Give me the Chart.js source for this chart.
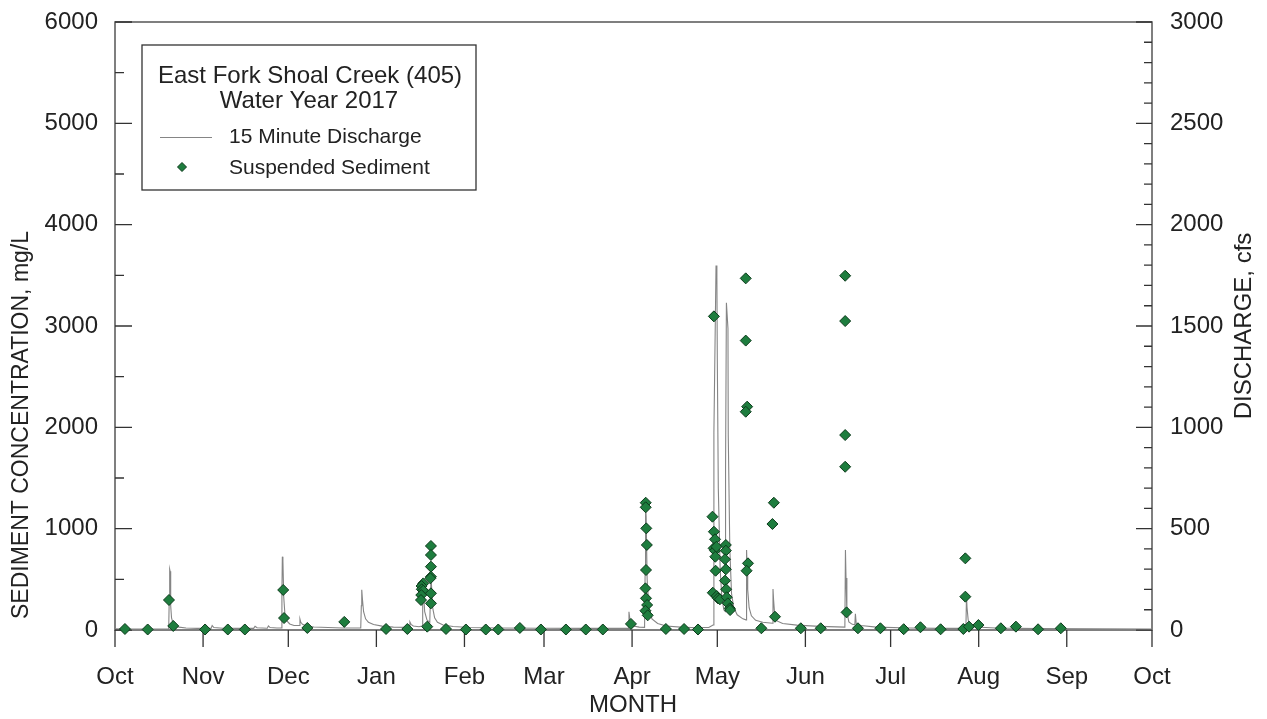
<!DOCTYPE html>
<html><head><meta charset="utf-8">
<script src="https://cdn.jsdelivr.net/npm/chart.js@4/dist/chart.umd.min.js"></script>
<style>html,body{margin:0;padding:0;background:#fff;}#wrap{width:1267px;height:719px;}</style>
</head><body><div id="wrap"><canvas id="c" width="1267" height="719"></canvas></div>
<script>
// Days since 1 Oct 2016
const monthDays = [0,31,61,92,123,151,182,212,243,273,304,335,365];
const monthLabels = ['Oct','Nov','Dec','Jan','Feb','Mar','Apr','May','Jun','Jul','Aug','Sep','Oct'];
const concMajor = [0,1000,2000,3000,4000,5000,6000];
const concMinor = [500,1500,2500,3500,4500,5500];
const cfsMajor = [0,500,1000,1500,2000,2500,3000];
const cfsMinor = [100,200,300,400,600,700,800,900,1100,1200,1300,1400,1600,1700,1800,1900,2100,2200,2300,2400,2600,2700,2800,2900];

// Suspended sediment samples (mg/L)
const sedDays = [3.5,11.5,19.0,20.5,31.7,39.7,45.7,59.2,59.5,67.7,80.7,95.4,102.9,
 108.5,107.9,108.0,108.5,107.8,107.7,109.9,111.2,111.2,111.2,111.2,111.0,111.2,111.2,
 116.5,123.5,130.5,134.9,142.5,149.9,158.7,165.7,171.7,181.6,
 186.8,186.8,187.0,187.2,186.9,186.7,186.9,187.3,186.7,187.5,
 193.9,200.3,205.2,
 210.3,210.8,211.2,210.7,211.2,211.7,211.3,211.4,210.4,211.8,212.2,212.9,210.8,
 215.0,215.0,214.7,215.0,214.7,215.1,215.3,215.7,216.4,216.5,
 222.0,222.0,222.5,222.0,222.8,222.3,227.5,231.9,231.4,232.3,241.4,248.4,
 257.0,257.0,257.0,257.0,257.5,261.5,269.4,277.6,283.5,290.6,
 299.3,299.3,298.6,300.6,303.9,311.8,317.1,324.9,332.9];
const sedConc = [10,5,296,40,5,5,5,395,118,20,80,10,10,
 460,434,402,388,345,296,33,829,740,625,526,510,362,263,
 10,5,5,5,20,5,5,5,5,60,
 1256,1211,1003,839,592,411,313,247,190,145,
 10,10,5,
 1118,970,895,806,783,822,723,585,368,335,313,303,3095,
 839,783,698,599,487,402,323,263,214,197,
 3470,2856,2204,2154,658,585,17,1256,1046,131,17,17,
 3496,3049,1924,1611,174,17,17,8,27,7,
 707,329,10,33,49,17,33,7,17];

// 15-minute discharge (cfs), read at breakpoints
const qDays = [0,5,12,18.9,19.1,19.25,19.4,19.6,19.9,20.4,21.2,22.5,25,29,33.8,34.2,34.8,38,43,48.8,49.3,50,53.6,54,54.6,57,
 58.6,58.75,58.9,59.1,59.4,59.8,60.5,61.5,63,64.9,65.1,65.4,66,67.5,70,75,80,
 86.5,86.7,86.85,87.1,87.5,88.2,89.2,91,94,98,103.5,103.8,104.2,105,107,
 108.1,108.3,108.6,109,109.8,110.8,111.0,111.15,111.4,111.8,112.5,113.5,115.5,119,125,135,150,165,175,
 180.6,180.9,181.3,182.5,184.5,186.4,186.6,186.75,186.95,187.3,187.9,189,191,194,199,205,205.8,206.4,209,
 210.5,210.8,211.55,211.85,212.0,212.35,213.0,213.6,214.3,214.85,214.9,215.2,215.75,215.85,216.4,217.0,217.8,219,221,
 222.1,222.3,222.5,222.7,223.2,224,225.5,228,231.4,231.6,231.8,232.2,233,235,240,248,
 256.9,257.1,257.3,257.6,258.3,259.5,260.4,260.6,260.9,262.5,268,280,290,
 299.5,299.7,299.9,300.3,301,303,310,325,345,365];
const qCfs = [6,5,5,5,160,300,290,120,60,35,22,14,10,8,8,22,12,9,8,8,18,11,9,20,12,10,
 10,180,362,340,160,80,45,30,22,22,54,38,28,20,15,12,10,
 10,120,198,150,90,55,38,27,19,14,13,40,28,20,16,
 20,200,180,90,50,38,150,270,220,110,60,38,25,17,12,10,9,8,8,
 8,90,45,20,14,13,300,620,560,250,110,55,32,20,14,11,22,12,12,
 25,973,1798,1740,1334,700,300,160,100,90,790,1615,1487,963,400,180,110,75,55,
 50,395,300,200,110,70,48,38,33,202,150,75,45,32,24,18,
 14,395,256,90,40,28,26,80,30,22,14,10,8,
 8,165,110,50,25,15,10,7,6,5];

const FONT = '"Liberation Sans", Arial, sans-serif';
const TXT = '#222';
const GREEN = '#1e7d3e';
const GREEN_EDGE = '#0c3a1b';
const LINE_GREY = '#858585';

const framePlugin = {
  id: 'frame',
  beforeDatasetsDraw(chart) {
    const {ctx, chartArea: a, scales} = chart;
    ctx.save();
    ctx.strokeStyle = '#555';
    ctx.lineWidth = 1.5;
    ctx.strokeRect(a.left, a.top, a.right - a.left, a.bottom - a.top);
    ctx.strokeStyle = '#333';
    ctx.lineWidth = 1.3;
    ctx.beginPath();
    concMajor.forEach(v => { const p = scales.y.getPixelForValue(v); ctx.moveTo(a.left, p); ctx.lineTo(a.left + 17, p); });
    concMinor.forEach(v => { const p = scales.y.getPixelForValue(v); ctx.moveTo(a.left, p); ctx.lineTo(a.left + 9, p); });
    cfsMajor.forEach(v => { const p = scales.y1.getPixelForValue(v); ctx.moveTo(a.right, p); ctx.lineTo(a.right - 16, p); });
    cfsMinor.forEach(v => { const p = scales.y1.getPixelForValue(v); ctx.moveTo(a.right, p); ctx.lineTo(a.right - 8, p); });
    monthDays.forEach(v => { const p = scales.x.getPixelForValue(v); ctx.moveTo(p, a.bottom); ctx.lineTo(p, a.bottom + 17); });
    ctx.stroke();
    ctx.restore();
  },
  afterDraw(chart) {
    const {ctx} = chart;
    ctx.save();
    ctx.fillStyle = TXT;
    ctx.textAlign = 'center';
    ctx.textBaseline = 'middle';
    ctx.font = '24px ' + FONT;
    ctx.fillText('MONTH', 633, 705);
    ctx.save();
    ctx.translate(22, 425);
    ctx.rotate(-Math.PI / 2);
    ctx.font = '23px ' + FONT;
    ctx.fillText('SEDIMENT CONCENTRATION, mg/L', 0, 0);
    ctx.restore();
    ctx.save();
    ctx.translate(1244, 326);
    ctx.rotate(-Math.PI / 2);
    ctx.fillText('DISCHARGE, cfs', 0, 0);
    ctx.restore();
    // legend
    ctx.fillStyle = '#fff';
    ctx.fillRect(142, 45, 334, 145);
    ctx.strokeStyle = '#333';
    ctx.lineWidth = 1.3;
    ctx.strokeRect(142, 45, 334, 145);
    ctx.fillStyle = TXT;
    ctx.font = '24px ' + FONT;
    ctx.fillText('East Fork Shoal Creek (405)', 310, 76);
    ctx.fillText('Water Year 2017', 309, 101);
    ctx.textAlign = 'left';
    ctx.font = '21px ' + FONT;
    ctx.fillText('15 Minute Discharge', 229, 137);
    ctx.fillText('Suspended Sediment', 229, 168);
    ctx.strokeStyle = LINE_GREY;
    ctx.lineWidth = 1;
    ctx.beginPath(); ctx.moveTo(160, 137.5); ctx.lineTo(212, 137.5); ctx.stroke();
    ctx.beginPath();
    ctx.moveTo(177.5, 167); ctx.lineTo(182, 162.5); ctx.lineTo(186.5, 167); ctx.lineTo(182, 171.5); ctx.closePath();
    ctx.fillStyle = GREEN; ctx.fill();
    ctx.strokeStyle = GREEN_EDGE; ctx.stroke();
    ctx.restore();
  }
};

function fitY(s) { s.width = 115; s.paddingTop = 0; s.paddingBottom = 0; }

new Chart(document.getElementById('c'), {
  data: {
    datasets: [
      {
        type: 'scatter',
        label: 'Suspended Sediment',
        data: sedDays.map((d, i) => ({x: d, y: sedConc[i]})),
        yAxisID: 'y',
        pointStyle: 'rectRot',
        pointRadius: 5.5,
        pointHoverRadius: 5.5,
        backgroundColor: GREEN,
        borderColor: GREEN_EDGE,
        borderWidth: 1,
        clip: false
      },
      {
        type: 'line',
        label: '15 Minute Discharge',
        data: qDays.map((d, i) => ({x: d, y: qCfs[i]})),
        yAxisID: 'y1',
        borderColor: LINE_GREY,
        borderWidth: 1.1,
        pointRadius: 0,
        tension: 0,
        fill: false
      }
    ]
  },
  options: {
    responsive: false,
    animation: false,
    devicePixelRatio: 1,
    layout: {padding: {top: 22, left: 0, right: 0, bottom: 0}},
    plugins: {legend: {display: false}, tooltip: {enabled: false}, title: {display: false}},
    scales: {
      x: {
        type: 'linear', position: 'bottom', min: 0, max: 365,
        grid: {display: false, drawTicks: false}, border: {display: false},
        afterBuildTicks: s => { s.ticks = monthDays.map(v => ({value: v})); },
        afterFit: s => { s.height = 89; s.paddingLeft = 0; s.paddingRight = 0; },
        ticks: {autoSkip: false, maxRotation: 0, padding: 33, color: TXT, font: {family: FONT, size: 24},
          callback: v => monthLabels[monthDays.indexOf(v)]}
      },
      y: {
        type: 'linear', position: 'left', min: 0, max: 6000,
        grid: {display: false, drawTicks: false}, border: {display: false},
        afterBuildTicks: s => { s.ticks = concMajor.map(v => ({value: v})); },
        afterFit: fitY,
        ticks: {padding: 17, color: TXT, font: {family: FONT, size: 24}, callback: v => String(v)}
      },
      y1: {
        type: 'linear', position: 'right', min: 0, max: 3000,
        grid: {display: false, drawTicks: false}, border: {display: false},
        afterBuildTicks: s => { s.ticks = cfsMajor.map(v => ({value: v})); },
        afterFit: fitY,
        ticks: {padding: 18, color: TXT, font: {family: FONT, size: 24}, callback: v => String(v)}
      }
    }
  },
  plugins: [framePlugin]
});
</script></body></html>
